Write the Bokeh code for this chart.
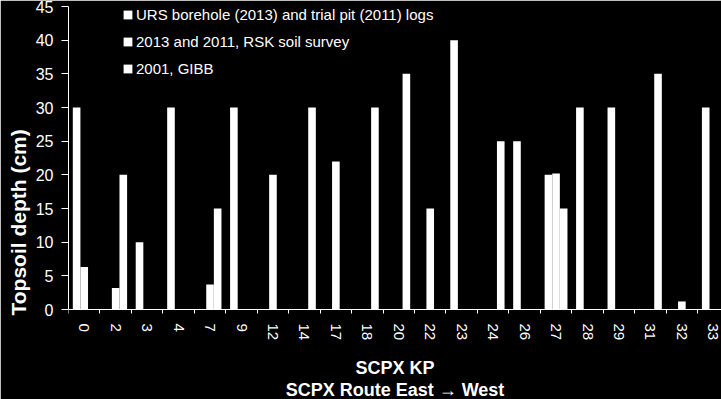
import math
from bokeh.plotting import figure
from bokeh.models import Range1d, FixedTicker, ColumnDataSource, Legend, LegendItem, Title
from bokeh.embed import file_html
from bokeh.resources import INLINE

categories = ["0", "2", "3", "4", "7", "9", "12", "14", "17", "18", "20",
              "22", "23", "24", "26", "27", "28", "29", "31", "32", "33"]
nan = float("nan")
urs_logs = [30, nan, 10, 30, nan, 30, nan, nan, nan, nan, nan,
            nan, 40, nan, 25, 20, 30, 30, nan, nan, 30]
rsk_survey = [6.3, 3.2, nan, nan, 3.7, nan, 20, nan, 22, nan, nan,
              15, nan, nan, nan, 20.2, nan, nan, nan, 1.2, nan]
gibb_2001 = [nan, 20, nan, nan, 15, nan, nan, 30, nan, 30, 35,
             nan, nan, 25, nan, 15, nan, nan, 35, nan, nan]
series_names = ["URS borehole (2013) and trial pit (2011) logs",
                "2013 and 2011, RSK soil survey",
                "2001, GIBB"]
y_ticks = [0, 5, 10, 15, 20, 25, 30, 35, 40, 45]

FONT = "Liberation Sans"
n = len(categories)
idx = list(range(n))
bw = 0.242

# frame spans from y=6 to the bottom of the canvas; 0..45 occupies the top 303 px
p = figure(width=721, height=399, output_backend="svg", toolbar_location=None,
           x_range=Range1d(-0.5, 20.26), y_range=Range1d(-13.36, 45),
           min_border_left=68, min_border_right=0, min_border_top=6,
           min_border_bottom=0)
p.background_fill_color = "black"
p.border_fill_color = "black"
p.outline_line_color = "black"
p.outline_line_width = 2
p.grid.visible = False

renderers = []
for k, vals in enumerate([urs_logs, rsk_survey, gibb_2001]):
    src = ColumnDataSource(dict(x=[i + (k - 1) * bw for i in idx], top=vals))
    r = p.vbar(x="x", top="top", width=bw, bottom=0, source=src,
               fill_color="white", line_color=None)
    renderers.append(r)

# x axis fixed at y = 0
xa = p.xaxis[0]
xa.fixed_location = 0
xa.ticker = FixedTicker(ticks=idx, minor_ticks=[i - 0.5 for i in range(n + 1)])
xa.major_label_overrides = {i: c for i, c in zip(idx, categories)}
xa.major_label_orientation = -math.pi / 2
xa.major_tick_out = 0
xa.major_tick_in = 0
xa.minor_tick_out = 4
xa.minor_tick_in = 0
xa.minor_tick_line_color = "white"
xa.axis_line_color = "white"
xa.major_label_text_color = "white"
xa.major_label_text_font = FONT
xa.major_label_text_font_size = "15px"
xa.major_label_standoff = 10
xa.axis_label = "SCPX KP\nSCPX Route East \u2192 West"
xa.axis_label_text_color = "white"
xa.axis_label_text_font = FONT
xa.axis_label_text_font_style = "bold"
xa.axis_label_text_font_size = "18px"
xa.axis_label_text_line_height = 1.1
xa.axis_label_standoff = 15

ya = p.yaxis[0]
ya.bounds = (0, 45)
ya.ticker = FixedTicker(ticks=y_ticks)
ya.major_tick_out = 7
ya.major_tick_in = 0
ya.minor_tick_line_color = None
ya.major_tick_line_color = "white"
ya.axis_line_color = "white"
ya.major_label_text_color = "white"
ya.major_label_text_font = FONT
ya.major_label_text_font_size = "16px"
ya.major_label_standoff = 8

ytitle = Title(text="Topsoil depth (cm)", align="left", offset=84,
               vertical_align="top", standoff=2,
               text_color="white", text_font=FONT, text_font_style="bold",
               text_font_size="21px")
p.add_layout(ytitle, "left")

legend = Legend(items=[LegendItem(label=nm, renderers=[r])
                       for nm, r in zip(series_names, renderers)],
                location=(54, 321), orientation="vertical")
legend.background_fill_color = None
legend.background_fill_alpha = 0
legend.border_line_color = None
legend.margin = 0
legend.padding = 0
legend.spacing = 7
legend.glyph_width = 11
legend.glyph_height = 11
legend.label_height = 20
legend.label_standoff = 3
legend.label_text_color = "white"
legend.label_text_font = FONT
legend.label_text_font_size = "15px"
p.add_layout(legend, "center")

open("out.html", "w").write(file_html(p, INLINE))
